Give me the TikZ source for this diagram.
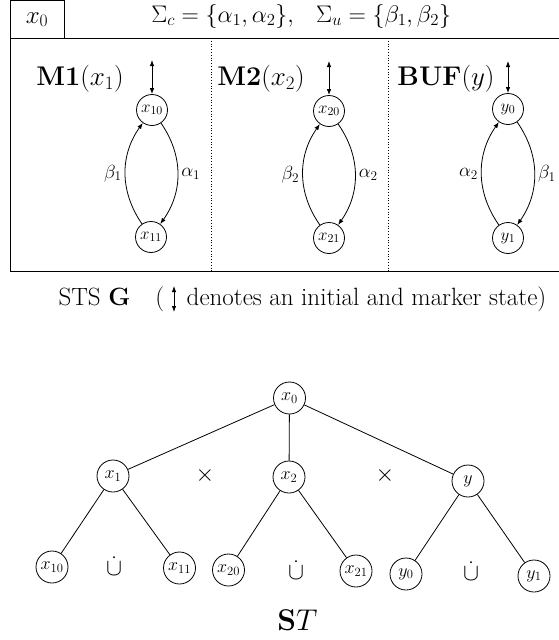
\RequirePackage{fix-cm}
\documentclass[tikz,border=0pt]{standalone}
\usepackage{amsmath}
\usetikzlibrary{arrows.meta}
\newcommand{\fs}[1]{\fontsize{#1}{#1}\selectfont}
\begin{document}
\begin{tikzpicture}[x=1pt,y=-1pt,line width=0.8pt,
  st/.style={circle,draw,minimum size=31pt,inner sep=0pt,font=\fs{17}},
  tn/.style={circle,draw,minimum size=32pt,inner sep=0pt,font=\fs{18}},
  tr/.style={-{Latex[length=6pt,width=4.5pt]}},
  im/.style={{Latex[length=6pt,width=4.5pt]}-{Latex[length=6pt,width=4.5pt]}},
  lab/.style={font=\fs{19}},
  big/.style={font=\fs{24}},
  mlab/.style={font=\fs{27}},
  captxt/.style={font=\fs{25}},
  op/.style={font=\fs{24}}]
\useasboundingbox (0,0) rectangle (559,640);
% top frame
\node[draw,minimum width=54pt,minimum height=38pt,inner sep=0pt,font=\fs{25}] (x0box) at (37,19.5) {$x_0$};
\draw (559,38) -- (10,38) -- (10,271) -- (559,271);
\draw[dotted] (211,38) -- (211,271);
\draw[dotted] (388,38) -- (388,271);
\node[big,anchor=west,inner sep=0pt] (sig) at (151,16) {$\Sigma_c=\{\alpha_1,\alpha_2\},\hspace{0.75em}\Sigma_u=\{\beta_1,\beta_2\}$};
\node[mlab] (m1) at (80,79) {$\mathbf{M1}(x_1)$};
\node[mlab] (m2) at (261,79) {$\mathbf{M2}(x_2)$};
\node[mlab] (buf) at (446,79) {$\mathbf{BUF}(y)$};
% automata
\node[st] (x10) at (152,110) {$x_{10}$};
\node[st] (x11) at (151,237) {$x_{11}$};
\node[st] (x20) at (329,111) {$x_{20}$};
\node[st] (x21) at (329,238) {$x_{21}$};
\node[st] (y0) at (508,109) {$y_0$};
\node[st] (y1) at (508,238) {$y_1$};
\coordinate (i1) at (152,60);
\coordinate (i2) at (329,61);
\coordinate (i3) at (508,61);
\draw[im] (i1) -- (x10);
\draw[im] (i2) -- (x20);
\draw[im] (i3) -- (y0);
\draw[tr] (x10) to[bend left=35] node[right,lab] {$\alpha_1$} (x11);
\draw[tr] (x11) to[bend left=35] node[left,lab] {$\beta_1$} (x10);
\draw[tr] (x20) to[bend left=35] node[right,lab] {$\alpha_2$} (x21);
\draw[tr] (x21) to[bend left=35] node[left,lab] {$\beta_2$} (x20);
\draw[tr] (y0) to[bend left=35] node[right,lab] {$\beta_1$} (y1);
\draw[tr] (y1) to[bend left=35] node[left,lab] {$\alpha_2$} (y0);
% caption
\node[anchor=east,captxt] (c2) at (550,299) {denotes an initial and marker state)};
\coordinate (ca) at ([xshift=-9pt,yshift=-13pt]c2.west);
\coordinate (cb) at ([xshift=-9pt,yshift=13pt]c2.west);
\draw[im] (ca) -- (cb);
\node[anchor=east,captxt] (c1) at ([xshift=-15pt]c2.west) {STS $\mathbf{G}$\quad(};
% tree
\node[tn] (t0) at (289.5,398) {$x_0$};
\node[tn] (t1) at (113,476) {$x_1$};
\node[tn] (t2) at (289,477) {$x_2$};
\node[tn] (t3) at (468,481) {$y$};
\node[tn] (l10) at (52,567) {$x_{10}$};
\node[tn] (l11) at (179.5,568) {$x_{11}$};
\node[tn] (l20) at (228.5,570) {$x_{20}$};
\node[tn] (l21) at (356,571) {$x_{21}$};
\node[tn] (l30) at (406,574) {$y_0$};
\node[tn] (l31) at (534,576) {$y_1$};
\draw (t0) -- (t1);
\draw (t0) -- (t2);
\draw (t0) -- (t3);
\draw (t1) -- (l10);
\draw (t1) -- (l11);
\draw (t2) -- (l20);
\draw (t2) -- (l21);
\draw (t3) -- (l30);
\draw (t3) -- (l31);
\node[op] (p1) at (205,475) {$\times$};
\node[op] (p2) at (385,475) {$\times$};
\node[op] (u1) at (114,566) {$\dot{\cup}$};
\node[op] (u2) at (296,570) {$\dot{\cup}$};
\node[op] (u3) at (471,571) {$\dot{\cup}$};
\node[font=\fs{30}] (stc) at (297.5,620) {$\mathbf{S}T$};
\end{tikzpicture}
\end{document}
